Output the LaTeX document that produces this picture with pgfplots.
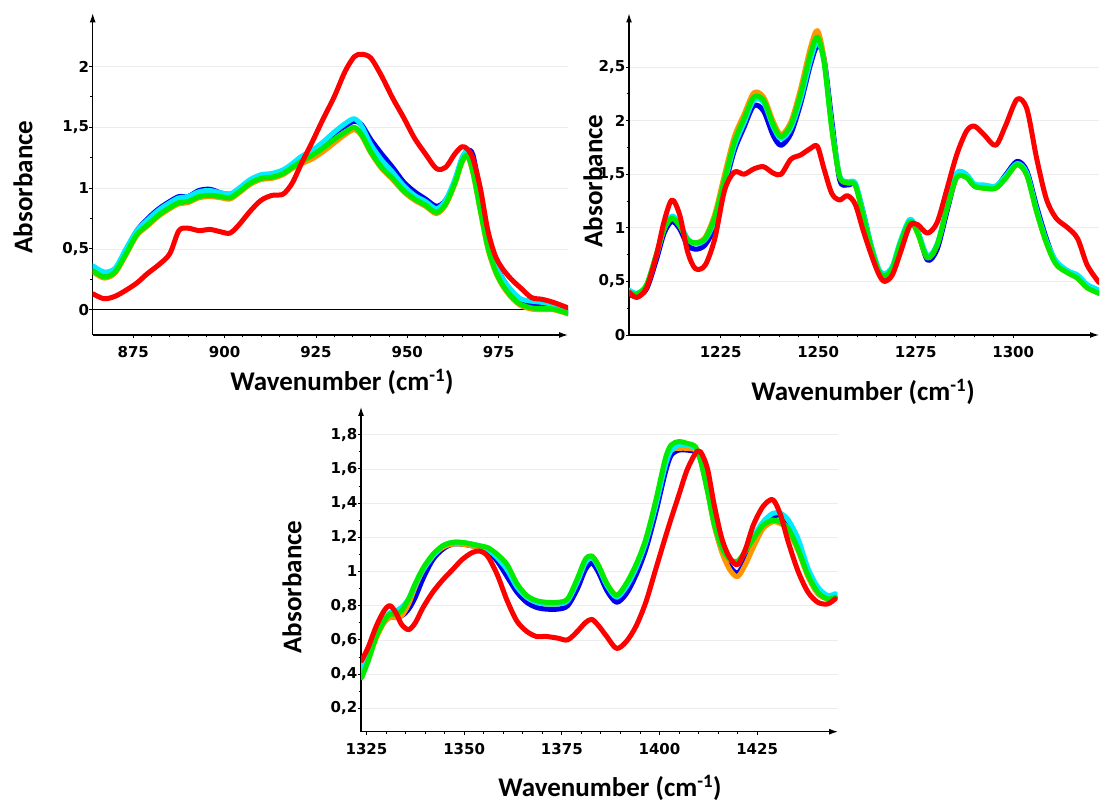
\documentclass[border=0pt]{standalone}
\usepackage{fontspec}
\usepackage{pgfplots}
\pgfplotsset{compat=1.18}
\usepackage{pgfplotstable}
\usetikzlibrary{arrows.meta}
\newfontfamily\tickfont{DejaVu Sans}
\newfontfamily\labfont{Carlito}
\definecolor{cBlue}{RGB}{0,0,235}
\definecolor{cCyan}{RGB}{0,235,255}
\definecolor{cOrange}{RGB}{255,150,0}
\definecolor{cGreen}{RGB}{0,235,0}
\definecolor{cRed}{RGB}{255,0,0}

\pgfplotstableread{
x blue cyan orange green red
864 0.35 0.36 0.31 0.32 0.13
867 0.30 0.31 0.26 0.27 0.09
870 0.33 0.34 0.30 0.31 0.11
873 0.49 0.50 0.45 0.46 0.16
876 0.65 0.65 0.61 0.62 0.22
879 0.75 0.74 0.69 0.70 0.30
882 0.83 0.82 0.77 0.78 0.37
885 0.89 0.88 0.83 0.84 0.46
887.5 0.93 0.92 0.87 0.88 0.65
890 0.93 0.93 0.88 0.89 0.67
893 0.98 0.97 0.92 0.93 0.65
896 0.99 0.98 0.93 0.94 0.66
899 0.96 0.96 0.92 0.93 0.64
901.5 0.95 0.95 0.91 0.92 0.63
904 0.99 1.00 0.96 0.97 0.70
907 1.06 1.07 1.03 1.04 0.81
910 1.10 1.11 1.07 1.08 0.90
913 1.11 1.12 1.08 1.09 0.94
916 1.14 1.15 1.11 1.12 0.95
918.5 1.19 1.20 1.16 1.17 1.04
921 1.25 1.26 1.20 1.22 1.20
924 1.30 1.31 1.24 1.27 1.38
927 1.37 1.38 1.30 1.33 1.57
930 1.45 1.46 1.37 1.40 1.75
933 1.51 1.53 1.44 1.46 1.96
935.5 1.55 1.57 1.48 1.50 2.08
937.5 1.52 1.51 1.43 1.44 2.10
940 1.40 1.36 1.29 1.30 2.07
943 1.28 1.23 1.16 1.17 1.92
946 1.17 1.13 1.07 1.08 1.74
949 1.05 1.02 0.97 0.98 1.58
952 0.97 0.94 0.90 0.91 1.41
955 0.91 0.89 0.85 0.86 1.28
958 0.85 0.83 0.79 0.80 1.16
960.5 0.90 0.90 0.86 0.87 1.17
963 1.05 1.07 1.03 1.04 1.28
965 1.24 1.25 1.21 1.22 1.34
966.5 1.31 1.30 1.26 1.27 1.32
968 1.27 1.18 1.12 1.13 1.24
970 0.95 0.87 0.81 0.82 1.00
972 0.60 0.57 0.51 0.52 0.66
974 0.39 0.38 0.32 0.33 0.45
976 0.26 0.26 0.20 0.21 0.34
978.5 0.15 0.16 0.10 0.11 0.25
981 0.08 0.09 0.035 0.045 0.18
984 0.05 0.07 0.005 0.015 0.10
987 0.04 0.06 0.0 0.01 0.085
990 0.02 0.04 0.0 0.005 0.06
994 -0.02 -0.01 -0.035 -0.03 0.015
}\tabA

\pgfplotstableread{
x blue cyan orange green red
1201.5 0.38 0.42 0.40 0.40 0.40
1203.5 0.36 0.39 0.37 0.38 0.35
1206 0.43 0.46 0.46 0.47 0.44
1208.5 0.70 0.74 0.75 0.75 0.74
1210.5 0.95 0.99 0.99 0.99 1.06
1212.5 1.06 1.11 1.09 1.09 1.26
1214.5 0.99 1.04 1.02 1.02 1.12
1216.5 0.84 0.90 0.89 0.89 0.78
1218.5 0.80 0.85 0.86 0.86 0.62
1221 0.84 0.89 0.91 0.90 0.65
1223.5 1.02 1.07 1.13 1.10 0.90
1226 1.38 1.42 1.50 1.45 1.35
1228.5 1.72 1.76 1.85 1.80 1.52
1231 1.94 1.98 2.06 2.02 1.50
1233.5 2.14 2.19 2.26 2.22 1.55
1236 2.09 2.17 2.22 2.19 1.57
1238.5 1.86 1.94 1.99 1.96 1.51
1240.5 1.77 1.83 1.87 1.85 1.50
1243 1.88 1.93 1.99 1.96 1.64
1245.5 2.16 2.20 2.30 2.25 1.68
1248 2.52 2.56 2.68 2.62 1.74
1249.8 2.70 2.74 2.84 2.78 1.76
1251.5 2.58 2.55 2.58 2.55 1.55
1253.5 2.00 1.95 1.93 1.92 1.32
1255.5 1.45 1.49 1.48 1.48 1.26
1257.5 1.40 1.43 1.42 1.42 1.30
1259.5 1.40 1.42 1.40 1.40 1.22
1261.5 1.15 1.15 1.12 1.12 0.98
1263.5 0.84 0.85 0.83 0.83 0.76
1265.5 0.60 0.62 0.60 0.60 0.57
1267 0.53 0.57 0.55 0.55 0.50
1269 0.60 0.64 0.62 0.62 0.56
1271 0.84 0.87 0.85 0.85 0.76
1273.5 1.05 1.08 1.06 1.06 1.02
1275.5 0.97 0.97 0.95 0.95 1.03
1278 0.70 0.74 0.72 0.72 0.95
1280.5 0.80 0.85 0.84 0.84 1.05
1283 1.15 1.19 1.18 1.18 1.36
1285.5 1.48 1.51 1.47 1.47 1.68
1288 1.48 1.50 1.47 1.47 1.90
1290 1.39 1.41 1.39 1.39 1.95
1292.5 1.38 1.40 1.37 1.37 1.87
1295.5 1.38 1.39 1.37 1.37 1.77
1298 1.49 1.48 1.46 1.46 1.95
1301 1.62 1.60 1.59 1.59 2.20
1303.5 1.53 1.51 1.49 1.49 2.11
1306 1.20 1.17 1.15 1.15 1.65
1308.5 0.90 0.88 0.86 0.86 1.27
1311 0.67 0.69 0.66 0.66 1.09
1314 0.59 0.60 0.58 0.58 1.00
1316.5 0.54 0.56 0.53 0.53 0.90
1319 0.45 0.47 0.44 0.44 0.65
1322 0.39 0.42 0.39 0.39 0.49
}\tabB

\pgfplotstableread{
x blue cyan orange green red
1323.8 0.42 0.44 0.40 0.38 0.48
1325.5 0.50 0.52 0.49 0.48 0.56
1327.5 0.62 0.63 0.61 0.62 0.68
1329.5 0.71 0.72 0.70 0.71 0.77
1331 0.75 0.76 0.73 0.75 0.80
1332.5 0.74 0.77 0.73 0.75 0.76
1334 0.74 0.79 0.74 0.77 0.69
1335.8 0.78 0.84 0.81 0.84 0.66
1337.5 0.85 0.92 0.91 0.93 0.70
1339.5 0.96 1.01 1.01 1.02 0.79
1342 1.07 1.09 1.09 1.10 0.88
1344.5 1.13 1.15 1.14 1.15 0.95
1347 1.16 1.17 1.16 1.17 1.01
1349.5 1.16 1.17 1.16 1.17 1.07
1352 1.15 1.16 1.15 1.16 1.11
1354 1.14 1.15 1.14 1.15 1.12
1356 1.12 1.13 1.13 1.14 1.09
1358.5 1.06 1.08 1.09 1.10 0.98
1361 0.97 1.01 1.03 1.04 0.83
1363.5 0.88 0.91 0.92 0.93 0.71
1366 0.82 0.85 0.85 0.86 0.65
1368.5 0.79 0.82 0.82 0.83 0.62
1371 0.78 0.81 0.81 0.82 0.62
1374 0.78 0.81 0.81 0.82 0.61
1376.5 0.80 0.83 0.83 0.84 0.60
1379 0.90 0.94 0.95 0.96 0.65
1381 1.01 1.05 1.06 1.07 0.70
1382.7 1.05 1.08 1.09 1.09 0.72
1384.5 0.99 1.02 1.03 1.03 0.68
1386.5 0.89 0.92 0.93 0.93 0.62
1389 0.82 0.85 0.86 0.86 0.55
1391.5 0.87 0.91 0.92 0.93 0.59
1394 0.98 1.02 1.03 1.04 0.68
1396.5 1.13 1.17 1.18 1.19 0.82
1399 1.34 1.38 1.40 1.41 1.01
1401.5 1.58 1.62 1.63 1.66 1.20
1403 1.68 1.71 1.71 1.74 1.31
1405 1.71 1.74 1.72 1.76 1.45
1407 1.71 1.74 1.72 1.75 1.59
1409.2 1.70 1.72 1.71 1.73 1.69
1410.5 1.66 1.66 1.65 1.65 1.70
1412.3 1.48 1.48 1.47 1.47 1.60
1414 1.28 1.29 1.27 1.28 1.39
1416 1.12 1.14 1.11 1.14 1.19
1418 1.03 1.07 1.01 1.07 1.08
1420 0.99 1.05 0.97 1.06 1.04
1422 1.06 1.12 1.04 1.12 1.13
1424 1.16 1.20 1.14 1.19 1.27
1426.5 1.27 1.29 1.25 1.27 1.38
1429 1.32 1.34 1.29 1.30 1.42
1431 1.33 1.34 1.28 1.29 1.33
1433 1.28 1.30 1.24 1.25 1.17
1435.5 1.15 1.19 1.12 1.13 1.00
1438 1.00 1.02 0.97 0.98 0.88
1440.5 0.89 0.91 0.87 0.88 0.82
1443 0.84 0.86 0.84 0.84 0.81
1445 0.85 0.87 0.85 0.85 0.84
}\tabC

\pgfplotsset{
  spec/.style={
    scale only axis,
    anchor=south west,
    axis lines=left,
    axis line style={line width=1.2bp, black, -{Latex[length=9bp,width=6bp]}},
    tick align=outside,
    major tick length=3.5bp,
    minor tick length=2.5bp,
    every tick/.style={black, line width=0.8bp},
    ymajorgrids,
    major grid style={black!7, line width=0.7bp},
    tick label style={font=\tickfont\bfseries\fontsize{15bp}{17bp}\selectfont},
    /pgf/number format/use comma,
    /pgf/number format/1000 sep={},
    /pgf/number format/assume math mode=true,
    yticklabel style={inner sep=0pt},
    xticklabel style={inner sep=0pt, yshift=-8bp},
    label style={font=\labfont\bfseries\fontsize{27bp}{30bp}\selectfont, anchor=center},
    every axis plot/.append style={line width=5bp, smooth, tension=0.5, line join=round, line cap=round, no markers},
  },
}

\begin{document}
\begin{tikzpicture}
\useasboundingbox (0,0) rectangle (1100bp,803bp);
% Panel 1
\begin{axis}[spec,
  at={(92.7bp,468bp)}, width=475.3bp, height=321.7bp,
  xmin=863.9, xmax=994, ymin=-0.208, ymax=2.437,
  xtick={875,900,925,950,975}, minor x tick num=4,
  ytick={0,0.5,1,1.5,2}, minor y tick num=1,
  xlabel={Wavenumber (cm\textsuperscript{-1})},
  ylabel={Absorbance},
  xlabel style={at={(axis description cs:0.5245,-0.146)}},
  ylabel style={at={(axis description cs:-0.1466,0.46)}},
]
\draw[black, line width=0.8bp] (axis cs:863.9,0) -- (axis cs:994,0);
\addplot[cBlue] table[x=x,y=blue] {\tabA};
\addplot[cOrange] table[x=x,y=orange] {\tabA};
\addplot[cCyan] table[x=x,y=cyan] {\tabA};
\addplot[cGreen] table[x=x,y=green] {\tabA};
\addplot[cRed] table[x=x,y=red] {\tabA};
\end{axis}
% Panel 2
\begin{axis}[spec,
  at={(629bp,468bp)}, width=470bp, height=321.5bp,
  xmin=1201.5, xmax=1322, ymin=0, ymax=3.0,
  xtick={1225,1250,1275,1300}, minor x tick num=4,
  ytick={0,0.5,1,1.5,2,2.5}, minor y tick num=1,
  xlabel={Wavenumber (cm\textsuperscript{-1})},
  ylabel={Absorbance},
  xlabel style={at={(axis description cs:0.498,-0.177)}},
  ylabel style={at={(axis description cs:-0.0766,0.479)}},
]
\addplot[cBlue] table[x=x,y=blue] {\tabB};
\addplot[cOrange] table[x=x,y=orange] {\tabB};
\addplot[cCyan] table[x=x,y=cyan] {\tabB};
\addplot[cGreen] table[x=x,y=green] {\tabB};
\addplot[cRed] table[x=x,y=red] {\tabB};
\end{axis}
% Panel 3
\begin{axis}[spec,
  at={(361bp,71.3bp)}, width=477bp, height=324.7bp,
  xmin=1323.6, xmax=1445.7, ymin=0.063, ymax=1.962,
  xtick={1325,1350,1375,1400,1425}, minor x tick num=4,
  ytick={0.2,0.4,0.6,0.8,1,1.2,1.4,1.6,1.8}, minor y tick num=1,
  xlabel={Wavenumber (cm\textsuperscript{-1})},
  ylabel={Absorbance},
  xlabel style={at={(axis description cs:0.522,-0.173)}},
  ylabel style={at={(axis description cs:-0.1447,0.4456)}},
]
\addplot[cBlue] table[x=x,y=blue] {\tabC};
\addplot[cOrange] table[x=x,y=orange] {\tabC};
\addplot[cCyan] table[x=x,y=cyan] {\tabC};
\addplot[cGreen] table[x=x,y=green] {\tabC};
\addplot[cRed] table[x=x,y=red] {\tabC};
\end{axis}
\end{tikzpicture}
\end{document}
